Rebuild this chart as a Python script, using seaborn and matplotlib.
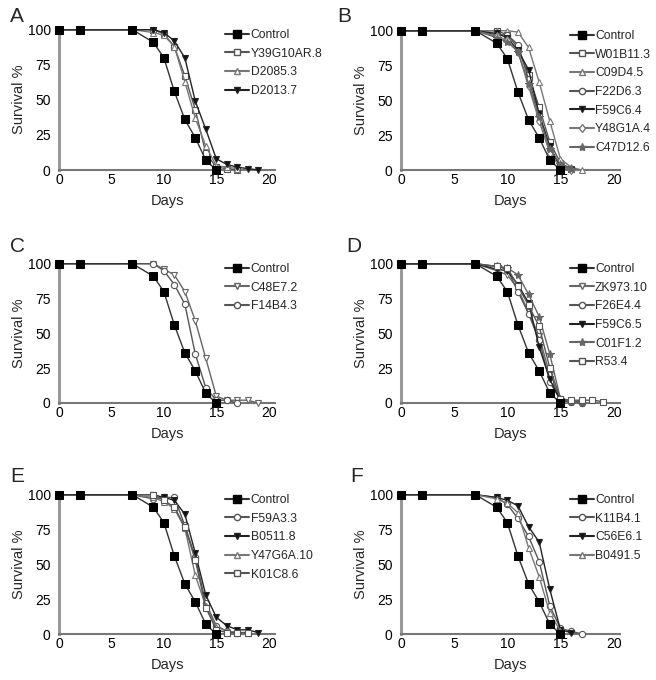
import numpy as np
import pandas as pd
import matplotlib
matplotlib.use("Agg")
import matplotlib.pyplot as plt
from matplotlib.lines import Line2D
import seaborn as sns

sns.set_theme(style="white")
plt.rcParams['font.family'] = ['Liberation Sans', 'DejaVu Sans']

# 天數 (所有組別相同)
days_ctrl = [0, 2, 7, 9, 10, 11, 12, 13, 14, 15]
control = [100, 100, 100, 91, 80, 56, 36, 23, 7, 0]

# Panel A
days_a1 = [0, 2, 7, 9, 10, 11, 12, 13, 14, 15, 16, 17]
y39g10ar8 = [100, 100, 100, 100, 97, 88, 67, 43, 12, 2, 1, 0]
days_a2 = [0, 2, 7, 9, 10, 11, 12, 13, 14, 15, 16, 17]
d2085_3 = [100, 100, 100, 98, 96, 88, 63, 37, 17, 3, 2, 1]
days_a3 = [0, 2, 7, 9, 10, 11, 12, 13, 14, 15, 16, 17, 18, 19]
d2013_7 = [100, 100, 100, 100, 98, 92, 80, 49, 29, 8, 4, 2, 1, 0]

# Panel B
days_b = [0, 2, 7, 9, 10, 11, 12, 13, 14, 15, 16]
w01b11_3 = [100, 100, 100, 100, 97, 88, 68, 45, 20, 5, 1]
days_b2 = [0, 2, 7, 9, 10, 11, 12, 13, 14, 15, 16, 17]
c09d4_5 = [100, 100, 100, 100, 100, 99, 88, 63, 35, 8, 2, 0]
f22d6_3 = [100, 100, 100, 97, 97, 90, 65, 40, 15, 3, 1]
f59c6_4 = [100, 100, 100, 98, 95, 86, 72, 40, 17, 2, 0]
y48g1a_4 = [100, 100, 100, 96, 93, 85, 60, 35, 12, 2, 0]
c47d12_6 = [100, 100, 100, 95, 92, 85, 62, 38, 15, 4, 1]

# Panel C
days_c1 = [0, 2, 7, 9, 10, 11, 12, 13, 14, 15, 16, 17, 18, 19]
c48e7_2 = [100, 100, 100, 100, 96, 92, 80, 59, 32, 5, 2, 2, 2, 0]
days_c2 = [0, 2, 7, 9, 10, 11, 12, 13, 14, 15, 16, 17]
f14b4_3 = [100, 100, 100, 100, 95, 85, 71, 35, 11, 2, 2, 0]

# Panel D
days_d = [0, 2, 7, 9, 10, 11, 12, 13, 14, 15, 16, 17]
zk973_10 = [100, 100, 100, 95, 92, 82, 65, 48, 20, 3, 1, 1]
f26e4_4 = [100, 100, 100, 98, 96, 80, 64, 45, 15, 2, 1, 0]
f59c6_5 = [100, 100, 100, 96, 95, 85, 72, 40, 17, 2, 1, 0]
c01f1_2 = [100, 100, 100, 98, 97, 92, 78, 62, 35, 3, 1, 0]
days_d5 = [0, 2, 7, 9, 10, 11, 12, 13, 14, 15, 16, 17, 18, 19]
r53_4 = [100, 100, 100, 98, 97, 84, 70, 55, 25, 3, 2, 2, 2, 1]

# Panel E
days_e1 = [0, 2, 7, 9, 10, 11, 12, 13, 14, 15, 16, 17]
f59a3_3 = [100, 100, 100, 97, 98, 98, 78, 55, 22, 6, 2, 1]
days_e2 = [0, 2, 7, 9, 10, 11, 12, 13, 14, 15, 16, 17, 18, 19]
b0511_8 = [100, 100, 100, 100, 98, 96, 86, 58, 28, 12, 6, 3, 3, 1]
days_e3 = [0, 2, 7, 9, 10, 11, 12, 13, 14, 15, 16, 17, 18]
y47g6a_10 = [100, 100, 100, 98, 95, 90, 76, 42, 20, 5, 2, 1, 1]
k01c8_6 = [100, 100, 100, 100, 96, 91, 77, 53, 19, 3, 1, 1, 1]

# Panel F
days_f = [0, 2, 7, 9, 10, 11, 12, 13, 14, 15, 16, 17]
k11b4_1 = [100, 100, 100, 98, 93, 83, 70, 52, 20, 4, 2, 0]
days_f2 = [0, 2, 7, 9, 10, 11, 12, 13, 14, 15, 16]
c56e6_1 = [100, 100, 100, 98, 96, 92, 77, 66, 32, 3, 1]
days_f3 = [0, 2, 7, 9, 10, 11, 12, 13, 14, 15]
b0491_5 = [100, 100, 100, 97, 94, 87, 62, 41, 15, 2]

# 樣式: (marker, 填色, 線色)
STY = {
    'sq': ('s', 'white', '#555555'),
    'tri': ('^', 'white', '#777777'),
    'vfill': ('v', '#111111', '#222222'),
    'vopen': ('v', 'white', '#666666'),
    'circ': ('o', 'white', '#555555'),
    'dia': ('d', 'white', '#777777'),
    'star': ('*', '#666666', '#666666'),
}

panels = [
    ('A', [('Y39G10AR.8', days_a1, y39g10ar8, 'sq'),
           ('D2085.3', days_a2, d2085_3, 'tri'),
           ('D2013.7', days_a3, d2013_7, 'vfill')]),
    ('B', [('W01B11.3', days_b, w01b11_3, 'sq'),
           ('C09D4.5', days_b2, c09d4_5, 'tri'),
           ('F22D6.3', days_b, f22d6_3, 'circ'),
           ('F59C6.4', days_b, f59c6_4, 'vfill'),
           ('Y48G1A.4', days_b, y48g1a_4, 'dia'),
           ('C47D12.6', days_b, c47d12_6, 'star')]),
    ('C', [('C48E7.2', days_c1, c48e7_2, 'vopen'),
           ('F14B4.3', days_c2, f14b4_3, 'circ')]),
    ('D', [('ZK973.10', days_d, zk973_10, 'vopen'),
           ('F26E4.4', days_d, f26e4_4, 'circ'),
           ('F59C6.5', days_d, f59c6_5, 'vfill'),
           ('C01F1.2', days_d, c01f1_2, 'star'),
           ('R53.4', days_d5, r53_4, 'sq')]),
    ('E', [('F59A3.3', days_e1, f59a3_3, 'circ'),
           ('B0511.8', days_e2, b0511_8, 'vfill'),
           ('Y47G6A.10', days_e3, y47g6a_10, 'tri'),
           ('K01C8.6', days_e3, k01c8_6, 'sq')]),
    ('F', [('K11B4.1', days_f, k11b4_1, 'circ'),
           ('C56E6.1', days_f2, c56e6_1, 'vfill'),
           ('B0491.5', days_f3, b0491_5, 'tri')]),
]

fig = plt.figure(figsize=(6.56, 6.8), dpi=100)
W, H = 656, 680
# 每個子圖的像素位置 (left, top, right, bottom)
boxes = [(59, 29, 275, 170), (401, 30, 620, 170),
         (59, 263, 275, 403), (401, 263, 620, 403),
         (59, 494, 275, 634), (401, 494, 620, 634)]
# 字母標籤位置 (像素)
letter_pos = [(10, 16), (337, 16), (10, 246), (346, 247), (10, 476), (350, 476)]

for (letter, series), (l, t, r, b), (lx, ly) in zip(panels, boxes, letter_pos):
    ax = fig.add_axes([l / W, 1 - b / H, (r - l) / W, (b - t) / H])
    for name, d, v, key in series:
        mk, fc, lc = STY[key]
        df = pd.DataFrame({'Days': d, 'Survival': v})
        sns.lineplot(data=df, x='Days', y='Survival', ax=ax, color=lc, lw=1.0,
                     marker=mk, markersize=4.5 if mk != '*' else 6,
                     markerfacecolor=fc, markeredgecolor=lc, markeredgewidth=0.8,
                     clip_on=False, zorder=3)
    dfc = pd.DataFrame({'Days': days_ctrl, 'Survival': control})
    sns.lineplot(data=dfc, x='Days', y='Survival', ax=ax, color='#333333', lw=1.0,
                 marker='s', markersize=6.3, markerfacecolor='black',
                 markeredgecolor='black', clip_on=False, zorder=4)

    # 圖例
    hl = [Line2D([], [], color='#333333', lw=1.5, marker='s', markersize=5.5,
                 markerfacecolor='black', markeredgecolor='black')]
    labels = ['Control']
    for name, d, v, key in series:
        mk, fc, lc = STY[key]
        hl.append(Line2D([], [], color=lc, lw=1.5, marker=mk,
                         markersize=4.5 if mk != '*' else 6,
                         markerfacecolor=fc, markeredgecolor=lc))
        labels.append(name)
    ax.legend(hl, labels, loc='upper left', bbox_to_anchor=(0.77, 1.0),
              frameon=False, fontsize=8.7, handlelength=2.0, handletextpad=0.1,
              labelspacing=0.55, borderpad=0, borderaxespad=0)

    ax.set_xlim(0, 20.6)
    ax.set_ylim(0, 100.5)
    ax.set_xticks([0, 5, 10, 15, 20])
    ax.set_yticks([0, 25, 50, 75, 100])
    ax.tick_params(axis='both', direction='in', length=3, width=0.8,
                   colors='#777777', labelcolor='black', labelsize=10, pad=2)
    ax.tick_params(axis='y', length=0, pad=6)
    sns.despine(ax=ax)
    ax.spines['left'].set_color('#999999')
    ax.spines['left'].set_linewidth(2.2)
    ax.spines['bottom'].set_color('#777777')
    ax.spines['bottom'].set_linewidth(1.5)
    ax.set_xlabel('Days', fontsize=10.5, labelpad=5)
    ax.set_ylabel('Survival %', fontsize=10.5, labelpad=1)
    fig.text(lx / W, 1 - ly / H, letter, fontsize=15, ha='left', va='center')

fig.savefig('out.png', dpi=100)
